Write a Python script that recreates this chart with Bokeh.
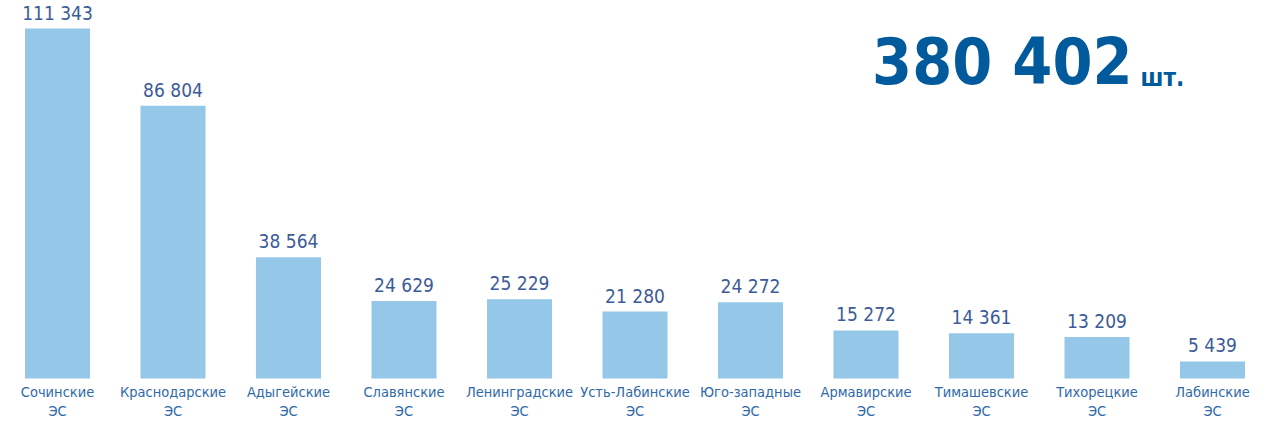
from bokeh.plotting import figure
from bokeh.models import Range1d, ColumnDataSource
from bokeh.core.properties import value
from bokeh.embed import file_html
from bokeh.resources import INLINE

categories = ["Сочинские\nЭС", "Краснодарские\nЭС", "Адыгейские\nЭС", "Славянские\nЭС",
              "Ленинградские\nЭС", "Усть-Лабинские\nЭС", "Юго-западные\nЭС", "Армавирские\nЭС",
              "Тимашевские\nЭС", "Тихорецкие\nЭС", "Лабинские\nЭС"]
values = [111343, 86804, 38564, 24629, 25229, 21280, 24272, 15272, 14361, 13209, 5439]
unit = "шт."

def fmt(v):
    return f"{v:,}".replace(",", " ")

W, H = 1252, 420
# layout (pixels in canvas)
first_cx, step = 57.0, 115.5
bar_px = 65.0
base_py = 378.0
max_px = 350.0

k = max_px / max(values)
x0 = -first_cx / step
x1 = x0 + W / step
y0 = -(H - base_py) / k
y1 = base_py / k

def sx(px):
    return x0 + px / step

def sy(py):
    return (base_py - py) / k

FONT = "DejaVu Sans Condensed"

p = figure(width=W, height=H, output_backend="svg", toolbar_location=None,
           x_range=Range1d(x0, x1), y_range=Range1d(y0, y1), min_border=0)
p.axis.visible = False
p.grid.visible = False
p.outline_line_color = None
p.background_fill_color = "white"

xs = list(range(len(values)))
src = ColumnDataSource(dict(x=xs, top=values, lab=[fmt(v) for v in values], cat=categories,
                            zero=[0] * len(values)))

p.vbar(x="x", top="top", bottom=0, width=bar_px / step, source=src,
       fill_color="#95c8e8", line_color=None)

p.text(x="x", y="top", text="lab", source=src, text_align="center", text_baseline="alphabetic",
       y_offset=-16, text_font=value(FONT), text_font_size="19px", text_color="#3d5b98")

p.text(x="x", y="zero", text="cat", source=src, text_align="center", text_baseline="top",
       y_offset=5, text_font=value(FONT), text_font_size="14.5px", text_color="#2f69a8",
       text_line_height=1.2)

total = sum(values)
p.text(x=[sx(1132)], y=[sy(61)], text=[fmt(total)], text_align="right", text_baseline="alphabetic",
       text_font=value(FONT), text_font_size="64px", text_font_style="bold", text_color="#005a9c")
p.text(x=[sx(1140)], y=[sy(77)], text=[unit], text_align="left", text_baseline="alphabetic",
       text_font=value(FONT), text_font_size="24px", text_font_style="bold", text_color="#005a9c")

open("out.html", "w").write(file_html(p, INLINE))
